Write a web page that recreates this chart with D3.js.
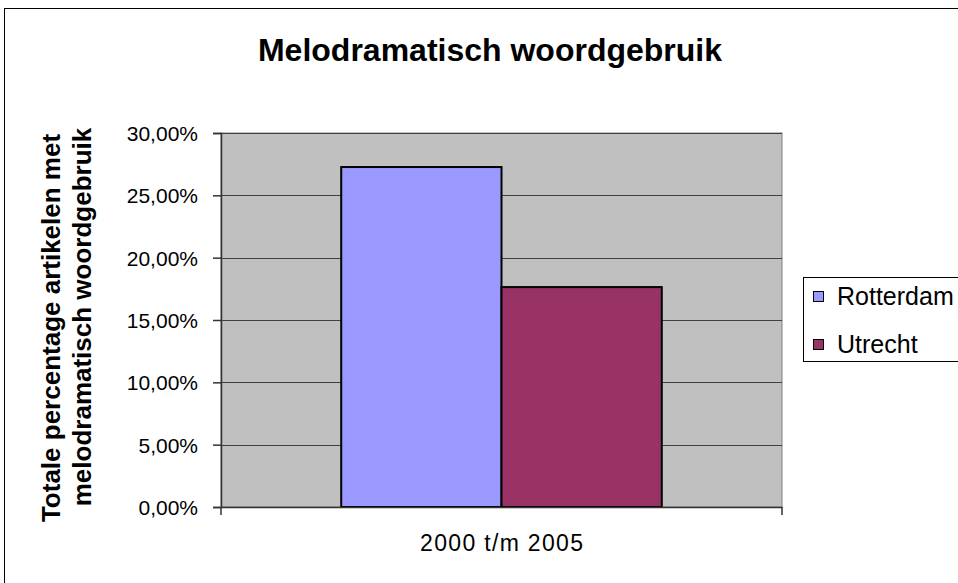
<!DOCTYPE html>
<html>
<head>
<meta charset="utf-8">
<script src="https://cdn.jsdelivr.net/npm/d3@7"></script>
<style>
  body { margin: 0; background: #fff; }
  svg text { font-family: "Liberation Sans", Arial, sans-serif; fill: #000; }
</style>
</head>
<body>
<svg id="chart" width="958" height="583"></svg>
<script>
// data
var categories = ['2000 t/m 2005'];
var seriesNames = ['Rotterdam', 'Utrecht'];
var seriesValues = [0.2727, 0.1764];
var seriesColors = ['#9999ff', '#993366'];
var yTicks = [0, 0.05, 0.10, 0.15, 0.20, 0.25, 0.30];

var svg = d3.select('#chart');
var font = '"Liberation Sans", Arial, sans-serif';

// outer chart border
svg.append('rect')
  .attr('x', 4.5).attr('y', 8.5)
  .attr('width', 1000).attr('height', 1000)
  .attr('fill', '#fff').attr('stroke', '#000').attr('stroke-width', 1);

var plot = {left: 221, top: 133, right: 782, bottom: 507};

var y = d3.scaleLinear().domain([0, 0.30]).range([plot.bottom, plot.top]);
var x0 = d3.scaleBand().domain(categories).range([plot.left, plot.right]);
// 150% gap width between the bar groups
var x1 = d3.scaleBand().domain(seriesNames).range([0, x0.bandwidth()]).paddingOuter(0.75).paddingInner(0);

var fmt = function(v) { return d3.format('.2f')(v * 100).replace('.', ',') + '%'; };

// plot background
svg.append('rect')
  .attr('x', plot.left).attr('y', plot.top)
  .attr('width', plot.right - plot.left).attr('height', plot.bottom - plot.top)
  .attr('fill', '#c0c0c0').attr('stroke', '#808080').attr('stroke-width', 1);

// gridlines
svg.append('g').selectAll('line')
  .data(yTicks.filter(function(d) { return d > 0; }))
  .enter().append('line')
  .attr('x1', plot.left).attr('x2', plot.right)
  .attr('y1', function(d) { return Math.round(y(d)) + 0.5; })
  .attr('y2', function(d) { return Math.round(y(d)) + 0.5; })
  .attr('stroke', '#404040').attr('stroke-width', 1);

// bars
var grp = svg.append('g').selectAll('g')
  .data(categories).enter().append('g')
  .attr('transform', function(d) { return 'translate(' + x0(d) + ',0)'; });

grp.selectAll('rect')
  .data(seriesNames.map(function(s, i) { return {name: s, value: seriesValues[i], color: seriesColors[i]}; }))
  .enter().append('rect')
  .attr('x', function(d) { return x1(d.name); })
  .attr('y', function(d) { return y(d.value); })
  .attr('width', x1.bandwidth())
  .attr('height', function(d) { return y(0) - y(d.value); })
  .attr('fill', function(d) { return d.color; })
  .attr('stroke', '#000').attr('stroke-width', 2);

// y axis
var yAxis = svg.append('g')
  .attr('transform', 'translate(' + plot.left + ',0)')
  .call(d3.axisLeft(y).tickValues(yTicks).tickFormat(fmt).tickSize(8).tickPadding(15));
yAxis.select('.domain').attr('stroke', '#333').attr('stroke-width', 1.5);
yAxis.selectAll('.tick line').attr('stroke', '#333').attr('stroke-width', 1.5);
yAxis.selectAll('.tick text').attr('font-size', 21).attr('fill', '#000')
  .attr('dy', '0.36em')
  .style('font-family', font);

// x axis
var xAxis = svg.append('g')
  .attr('transform', 'translate(0,' + plot.bottom + ')')
  .call(d3.axisBottom(x0).tickSize(0).tickPadding(0));
xAxis.select('.domain').attr('stroke', '#333').attr('stroke-width', 1.5);
xAxis.selectAll('.tick text')
  .attr('font-size', 23).attr('fill', '#000')
  .attr('y', 44).attr('dy', 0)
  .attr('textLength', 163).attr('lengthAdjust', 'spacing')
  .style('font-family', font);
// tick marks between categories
xAxis.selectAll('.sep')
  .data([plot.left, plot.right]).enter().append('line')
  .attr('x1', function(d) { return d; }).attr('x2', function(d) { return d; })
  .attr('y1', 0).attr('y2', 8)
  .attr('stroke', '#333').attr('stroke-width', 1.5);

// title
svg.append('text')
  .attr('x', 490).attr('y', 61)
  .attr('text-anchor', 'middle')
  .attr('font-size', 32).attr('font-weight', 'bold')
  .text('Melodramatisch woordgebruik');

// y axis title, two lines
svg.append('text')
  .attr('transform', 'translate(60,328) rotate(-90)')
  .attr('text-anchor', 'middle')
  .attr('font-size', 26).attr('font-weight', 'bold')
  .text('Totale percentage artikelen met');
svg.append('text')
  .attr('transform', 'translate(91,317) rotate(-90)')
  .attr('text-anchor', 'middle')
  .attr('font-size', 26).attr('font-weight', 'bold')
  .text('melodramatisch woordgebruik');

// legend
var lg = svg.append('g');
lg.append('rect')
  .attr('x', 803.5).attr('y', 277.5)
  .attr('width', 200).attr('height', 84)
  .attr('fill', '#fff').attr('stroke', '#000').attr('stroke-width', 1);

var items = lg.selectAll('g.item')
  .data(seriesNames).enter().append('g')
  .attr('class', 'item')
  .attr('transform', function(d, i) { return 'translate(813,' + (291 + i * 48) + ')'; });

items.append('rect')
  .attr('x', 0.5).attr('y', 0.5)
  .attr('width', 10).attr('height', 10)
  .attr('fill', function(d, i) { return seriesColors[i]; })
  .attr('stroke', '#000').attr('stroke-width', 1);

items.append('text')
  .attr('x', 24).attr('y', 14)
  .attr('font-size', 25)
  .text(function(d) { return d; });
</script>
</body>
</html>
